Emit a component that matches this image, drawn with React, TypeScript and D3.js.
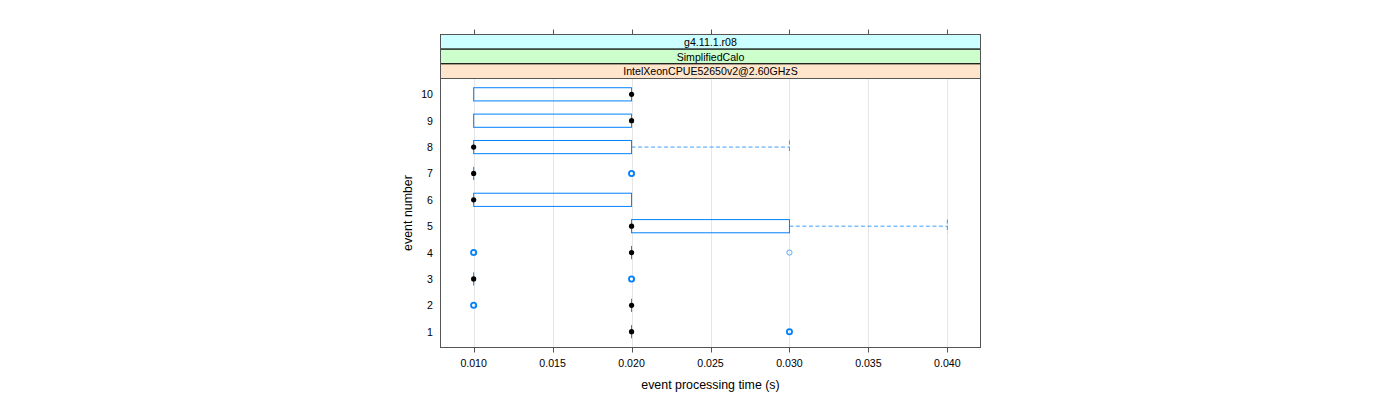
import React from "react";
import * as d3 from "d3";

const events = [1, 2, 3, 4, 5, 6, 7, 8, 9, 10];
const q1 = [0.02, 0.02, 0.01, 0.02, 0.02, 0.01, 0.01, 0.01, 0.01, 0.01];
const medians = [0.02, 0.02, 0.01, 0.02, 0.02, 0.01, 0.01, 0.01, 0.02, 0.02];
const q3 = [0.02, 0.02, 0.01, 0.02, 0.03, 0.02, 0.01, 0.02, 0.02, 0.02];
const whiskerLo = [0.02, 0.02, 0.01, 0.02, 0.02, 0.01, 0.01, 0.01, 0.01, 0.01];
const whiskerHi = [0.02, 0.02, 0.01, 0.02, 0.04, 0.02, 0.01, 0.03, 0.02, 0.02];
const outlierEvents = [1, 2, 3, 4, 4, 7];
const outlierValues = [0.03, 0.01, 0.02, 0.01, 0.03, 0.02];
const outlierCounts = [3, 3, 3, 3, 1, 3];
const xTicks = [0.01, 0.015, 0.02, 0.025, 0.03, 0.035, 0.04];
const xTickLabels = ["0.010", "0.015", "0.020", "0.025", "0.030", "0.035", "0.040"];
const stripLabels = ["g4.11.1.r08", "SimplifiedCalo", "IntelXeonCPUE52650v2@2.60GHzS"];
const stripColors = ["#ccffff", "#ccffcc", "#ffe5cc"];

const W = 1400;
const H = 400;
const pL = 440.5, pR = 980.5, pT = 78.5, pB = 347.5;
const stripTop = 34.5;
const stripH = (pT - stripTop) / 3;
const font = "'Liberation Sans', Arial, Helvetica, sans-serif";
const blue = "#0080ff";

export default function App() {
  const x = d3.scaleLinear().domain([0.0079, 0.0421]).range([pL, pR]);
  const y = d3.scaleLinear().domain([0.4, 10.6]).range([pB, pT]);
  const bh = (y(0) - y(0.5)) ; // half-box = 0.25 unit each side -> total 0.5 units
  const half = bh / 2;

  return (
    <svg width={W} height={H} style={{ position: "absolute", left: 0, top: 0, display: "block", background: "#fff" }}>
      {/* grid */}
      {xTicks.map((t, i) => (
        <line key={"g" + i} x1={Math.round(x(t)) + 0.5} x2={Math.round(x(t)) + 0.5} y1={pT} y2={pB} stroke="#e6e6e6" strokeWidth={1} />
      ))}
      {/* strips */}
      {stripLabels.map((s, i) => {
        const top = stripTop + i * stripH;
        return (
          <g key={"s" + i}>
            <rect x={pL} y={top} width={pR - pL} height={stripH} fill={stripColors[i]} stroke="#000" strokeWidth={1} />
            <text x={(pL + pR) / 2} y={top + stripH / 2 + 4} textAnchor="middle" fontFamily={font} fontSize={10.6} fill="#000">{s}</text>
          </g>
        );
      })}
      {/* top ticks */}
      {xTicks.map((t, i) => (
        <line key={"tt" + i} x1={Math.round(x(t)) + 0.5} x2={Math.round(x(t)) + 0.5} y1={stripTop - 5} y2={stripTop} stroke="#555" strokeWidth={1} />
      ))}
      {/* boxes */}
      {events.map((e, i) => {
        const cy = y(e);
        const xl = x(q1[i]);
        const xr = x(q3[i]);
        const els: React.ReactNode[] = [];
        // whiskers
        if (whiskerHi[i] > q3[i]) {
          els.push(<line key="wh" x1={xr} x2={x(whiskerHi[i])} y1={cy} y2={cy} stroke={blue} strokeWidth={1} strokeDasharray="4,2.5" opacity={0.75} />);
          els.push(<line key="whc" x1={x(whiskerHi[i])} x2={x(whiskerHi[i])} y1={cy - half} y2={cy + half} stroke={blue} strokeWidth={1} strokeDasharray="4,2.5" opacity={0.75} />);
        }
        if (whiskerLo[i] < q1[i]) {
          els.push(<line key="wl" x1={x(whiskerLo[i])} x2={xl} y1={cy} y2={cy} stroke={blue} strokeWidth={1} strokeDasharray="4,2.5" opacity={0.75} />);
        }
        if (xr - xl > 0.5) {
          els.push(<rect key="box" x={xl} y={cy - half} width={xr - xl} height={2 * half} fill="none" stroke={blue} strokeWidth={1} />);
        } else {
          els.push(<line key="boxl" x1={xl} x2={xl} y1={cy - half} y2={cy + half} stroke={blue} strokeWidth={1} />);
        }
        els.push(<circle key="med" cx={x(medians[i])} cy={cy} r={2.6} fill="#000" />);
        return <g key={"b" + i}>{els}</g>;
      })}
      {/* outliers */}
      {outlierEvents.map((e, i) => (
        <circle key={"o" + i} cx={x(outlierValues[i])} cy={y(e)} r={2.6} fill="none"
          stroke={outlierCounts[i] > 1 ? blue : "#55aaff"} strokeWidth={outlierCounts[i] > 1 ? 1.8 : 1} />
      ))}
      {/* panel border */}
      <rect x={pL} y={pT} width={pR - pL} height={pB - pT} fill="none" stroke="#555" strokeWidth={1} />
      <rect x={pL} y={stripTop} width={pR - pL} height={pT - stripTop} fill="none" stroke="#555" strokeWidth={1} />
      {/* bottom ticks */}
      {xTicks.map((t, i) => (
        <g key={"bt" + i}>
          <line x1={Math.round(x(t)) + 0.5} x2={Math.round(x(t)) + 0.5} y1={pB} y2={pB + 5} stroke="#555" strokeWidth={1} />
          <text x={x(t)} y={367} textAnchor="middle" fontFamily={font} fontSize={10.6} fill="#000">{xTickLabels[i]}</text>
        </g>
      ))}
      {/* y labels */}
      {events.map((e) => (
        <text key={"yl" + e} x={433} y={y(e) + 4} textAnchor="end" fontFamily={font} fontSize={10.6} fill="#000">{e}</text>
      ))}
      <text x={(pL + pR) / 2} y={389} textAnchor="middle" fontFamily={font} fontSize={12.4} fill="#000">event processing time (s)</text>
      <text transform={`translate(412, ${(pT + pB) / 2}) rotate(-90)`} textAnchor="middle" fontFamily={font} fontSize={12.4} fill="#000">event number</text>
    </svg>
  );
}
